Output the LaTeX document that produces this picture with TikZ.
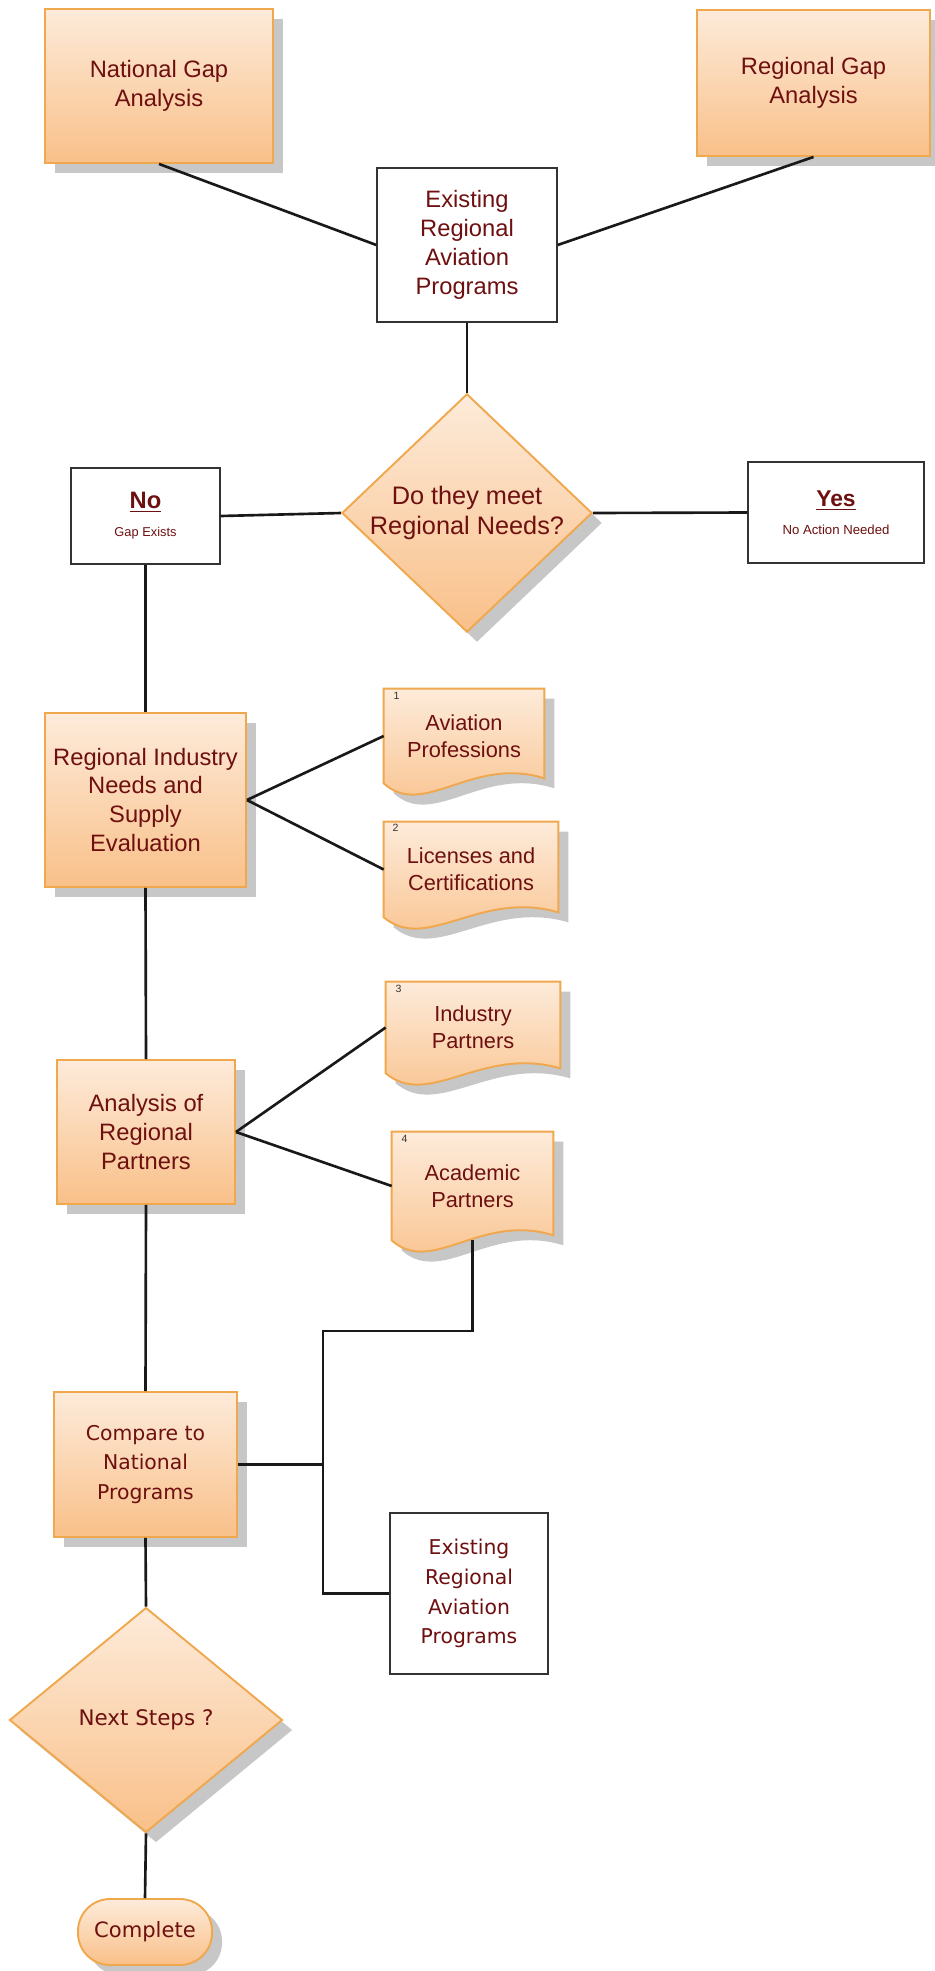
\documentclass[tikz,border=0pt]{standalone}
\usepackage{fontspec}
\setmainfont{Liberation Sans}
\newfontfamily\dvsans{DejaVu Sans}
\usetikzlibrary{shapes.geometric,shadows,calc,backgrounds}

\definecolor{orangeT}{HTML}{FDEBDA}
\definecolor{orangeD}{HTML}{F9C089}
\definecolor{orangeB}{HTML}{F0A84E}
\definecolor{txtred}{HTML}{6E0F10}

% outline of a "document" shape hung on a node
\newcommand{\docoutline}[1]{(#1.north west) -- (#1.north east) -- ($(#1.south east)+(0,-5)$) .. controls ($(#1.south west)!0.55!(#1.south east)+(0,-28)$) and ($(#1.south west)!0.25!(#1.south east)+(0,36)$) .. (#1.south west) -- cycle}

\begin{document}
\begin{tikzpicture}[x=0.02cm,y=-0.02cm,
  conn/.style={draw=black!90,line width=1.5pt},
  orangebox/.style={rectangle,draw=orangeB,line width=1.1pt,top color=orangeT,bottom color=orangeD,text=txtred,align=center,inner sep=0pt,
    drop shadow={shadow xshift=0.2cm,shadow yshift=-0.2cm,fill=black!22,opacity=1}},
  whitebox/.style={rectangle,draw=black!80,line width=0.8pt,fill=white,text=txtred,align=center,inner sep=0pt},
  decision/.style={diamond,aspect=1.05,draw=orangeB,line width=1.1pt,top color=orangeT,bottom color=orangeD,text=txtred,align=center,inner sep=0pt,
    drop shadow={shadow xshift=0.2cm,shadow yshift=-0.2cm,fill=black!22,opacity=1}},
  docbox/.style={rectangle,inner sep=0pt,text=txtred,align=center,font=\fontsize{12.4}{15.4}\selectfont},
  docfill/.style={draw=orangeB,line width=1.1pt,top color=orangeT,bottom color=orangeD},
  docshadow/.style={fill=black!22,transform canvas={shift={(0.2cm,-0.2cm)}}},
  numlbl/.style={inner sep=0pt,text=black!80,font=\fontsize{6}{6}\selectfont},
  armtxt/.style={font=\fontsize{13.5}{16.5}\selectfont},
  dvtxt/.style={font=\dvsans\fontsize{11.6}{17}\selectfont}]
\useasboundingbox (0,0) rectangle (935,1971);

% top row
\node[orangebox,armtxt,minimum width=4.56cm,minimum height=3.08cm] (natl) at (159,86) {National Gap\\Analysis};
\node[orangebox,armtxt,minimum width=4.66cm,minimum height=2.92cm] (regl) at (813.5,83) {Regional Gap\\Analysis};
\node[whitebox,armtxt,minimum width=3.6cm,minimum height=3.08cm] (ex1) at (467,245) {Existing\\Regional\\Aviation\\Programs};

% first decision
\node[decision,font=\fontsize{14.4}{17}\selectfont,minimum width=4.88cm,minimum height=4.74cm] (q1) at (467,513) {Do they meet\\Regional Needs?};
\node[whitebox,minimum width=2.98cm,minimum height=1.92cm] (no) at (145.5,516)
  {{\fontsize{13.5}{16}\selectfont\bfseries\underline{No}}\\[4pt]{\fontsize{7.3}{9}\selectfont Gap Exists}};
\node[whitebox,minimum width=3.52cm,minimum height=2.02cm] (yes) at (836,512.5)
  {{\fontsize{13}{16}\selectfont\bfseries\underline{Yes}}\\[4pt]{\fontsize{7.5}{9}\selectfont No Action Needed}};

% evaluation steps
\node[orangebox,armtxt,minimum width=4.02cm,minimum height=3.48cm] (rind) at (145.5,800) {Regional Industry\\Needs and\\Supply\\Evaluation};
\node[orangebox,armtxt,minimum width=3.56cm,minimum height=2.88cm] (anal) at (146,1132) {Analysis of\\Regional\\Partners};
\node[orangebox,dvtxt,minimum width=3.66cm,minimum height=2.9cm] (cmp) at (145.5,1464.5) {Compare to\\National\\Programs};

% documents
\node[docbox,minimum width=3.2cm,minimum height=1.88cm] (prof) at (464,736) {Aviation\\Professions};
\node[docbox,minimum width=3.48cm,minimum height=1.9cm] (lic) at (471,869.5) {Licenses and\\Certifications};
\node[docbox,minimum width=3.48cm,minimum height=1.82cm] (ind) at (473,1027.5) {Industry\\Partners};
\node[docbox,minimum width=3.22cm,minimum height=2.16cm] (acad) at (472.5,1186) {Academic\\Partners};
\node[numlbl] (num1) at ([shift={(0.26cm,-0.14cm)}]prof.north west) {1};
\node[numlbl] (num2) at ([shift={(0.24cm,-0.12cm)}]lic.north west) {2};
\node[numlbl] (num3) at ([shift={(0.26cm,-0.14cm)}]ind.north west) {3};
\node[numlbl] (num4) at ([shift={(0.26cm,-0.14cm)}]acad.north west) {4};
\begin{pgfonlayer}{background}
\foreach \d in {prof,lic,ind,acad}{
  \fill[docshadow] \docoutline{\d};
  \path[docfill] \docoutline{\d};
}
\end{pgfonlayer}

\node[whitebox,dvtxt,minimum width=3.16cm,minimum height=3.22cm] (ex2) at (469,1593.5) {Existing\\Regional\\Aviation\\Programs};

% last steps
\node[decision,font=\dvsans\fontsize{12.2}{15}\selectfont,minimum width=5.46cm,minimum height=4.5cm] (q2) at (146,1720) {Next Steps ?};
\node[orangebox,rounded corners=0.64cm,font=\dvsans\fontsize{12}{15}\selectfont,minimum width=2.68cm,minimum height=1.32cm] (done) at (145,1932) {Complete};
\coordinate (j1) at (323,1331);

% connectors
\draw[conn] (natl.south) -- (ex1.west);
\draw[conn] (regl.south) -- (ex1.east);
\draw[conn] (ex1.south) -- (q1.north);
\draw[conn] (no.east) -- (q1.west);
\draw[conn] (q1.east) -- (yes.west);
\draw[conn] (no.south) -- (rind.north);
\draw[conn] (rind.east) -- (prof.west);
\draw[conn] (rind.east) -- (lic.west);
\draw[conn] (rind.south) -- (anal.north);
\draw[conn] (anal.east) -- (ind.west);
\draw[conn] (anal.east) -- (acad.west);
\draw[conn] (anal.south) -- (cmp.north);
\draw[conn] (acad.south) |- (j1) |- (ex2.west);
\draw[conn] (cmp.east) -- (cmp.east -| j1);
\draw[conn] (cmp.south) -- (q2.north);
\draw[conn] (q2.south) -- (done.north);
\end{tikzpicture}
\end{document}
